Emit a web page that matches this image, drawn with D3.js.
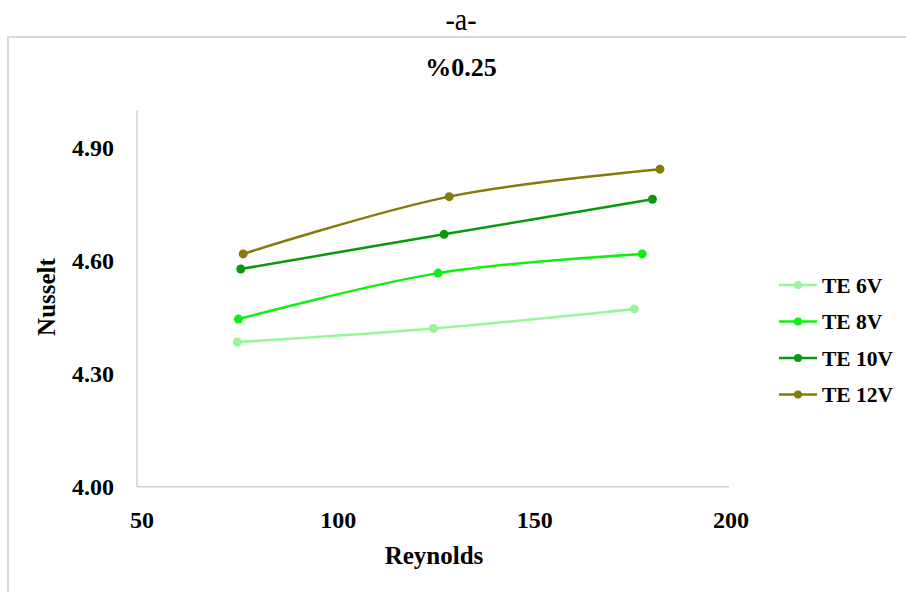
<!DOCTYPE html>
<html><head><meta charset="utf-8">
<script src="https://cdn.jsdelivr.net/npm/d3@7"></script>
<style>body{margin:0;background:#fff}svg{display:block}text{font-family:"Liberation Serif","Times New Roman",serif}</style>
</head><body><svg id="c" width="906" height="592"></svg>
<script>
const seriesNames = ["TE 6V","TE 8V","TE 10V","TE 12V"];
const seriesColors = ["#99f599","#11ee11","#0a990a","#857a0c"];
const reynolds = [
  [75.4,125.1,176.0],
  [75.7,126.3,178.0],
  [76.3,127.8,180.6],
  [76.9,129.1,182.5]
];
const nusselt = [
  [4.384,4.420,4.472],
  [4.445,4.567,4.618],
  [4.578,4.670,4.763],
  [4.618,4.770,4.843]
];
const xTicks = [50,100,150,200];
const yTicks = [4.0,4.3,4.6,4.9];

const svg = d3.select("#c");
svg.append("path").attr("d","M8,592 V37 H906").attr("fill","none").attr("stroke","#d9d9d9").attr("stroke-width",2);
svg.append("text").attr("transform","translate(461,30) scale(1,1.15)").attr("text-anchor","middle").attr("font-size",28).text("-a-");
svg.append("text").attr("x",461).attr("y",76).attr("text-anchor","middle").attr("font-size",26).attr("font-weight","bold").text("%0.25");

const x = d3.scaleLinear().domain([50,200]).range([137,729]);
const y = d3.scaleLinear().domain([4.0,5.0]).range([486.7,110]);

svg.append("line").attr("x1",x(50)).attr("x2",x(200)).attr("y1",y(4)).attr("y2",y(4)).attr("stroke","#d0d0d0").attr("stroke-width",1.5);
svg.append("line").attr("x1",x(50)).attr("x2",x(50)).attr("y1",y(4)).attr("y2",y(5)).attr("stroke","#d0d0d0").attr("stroke-width",1.5);

svg.selectAll(".xt").data(xTicks).enter().append("text")
  .attr("x",d=>x(d)+5-(d-50)*0.02).attr("y",528).attr("text-anchor","middle").attr("font-size",24).attr("font-weight","bold").text(d=>d);
svg.selectAll(".yt").data(yTicks).enter().append("text")
  .attr("x",114).attr("y",d=>y(d)+8.5).attr("text-anchor","end").attr("font-size",24).attr("font-weight","bold").text(d=>d.toFixed(2));

svg.append("text").attr("x",434).attr("y",564).attr("text-anchor","middle").attr("font-size",25).attr("font-weight","bold").text("Reynolds");
svg.append("text").attr("transform","translate(55,297) rotate(-90)").attr("text-anchor","middle").attr("font-size",25).attr("font-weight","bold").text("Nusselt");

const line = d3.line().x(d=>x(d[0])).y(d=>y(d[1])).curve(d3.curveCatmullRom.alpha(0.5));
seriesNames.forEach((name,i)=>{
  const pts = reynolds[i].map((r,j)=>[r,nusselt[i][j]]);
  svg.append("path").datum(pts).attr("d",line).attr("fill","none").attr("stroke",seriesColors[i]).attr("stroke-width",2.5);
  svg.selectAll(".m"+i).data(pts).enter().append("circle")
    .attr("cx",d=>x(d[0])).attr("cy",d=>y(d[1])).attr("r",4.5).attr("fill",seriesColors[i]);
  const ly = 285 + i*36.5;
  svg.append("line").attr("x1",779).attr("x2",817).attr("y1",ly).attr("y2",ly).attr("stroke",seriesColors[i]).attr("stroke-width",2.5);
  svg.append("circle").attr("cx",798).attr("cy",ly).attr("r",4).attr("fill",seriesColors[i]);
  svg.append("text").attr("x",822).attr("y",ly+7.5).attr("font-size",21.5).attr("font-weight","bold").text(name);
});
</script></body></html>
